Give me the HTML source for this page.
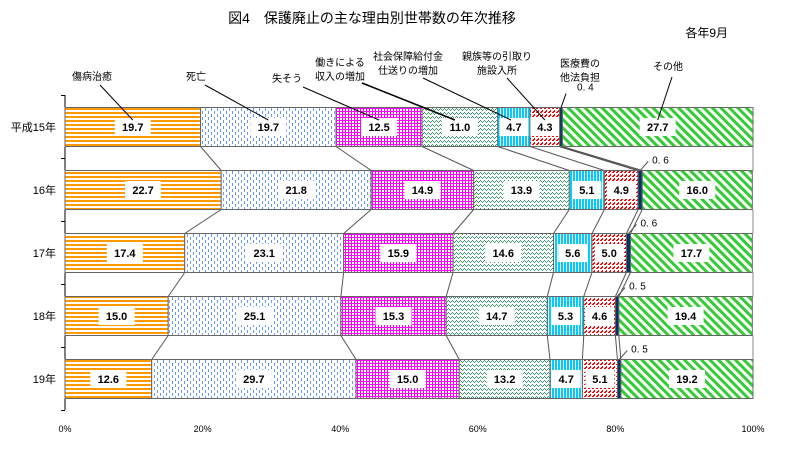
<!DOCTYPE html>
<html><head><meta charset="utf-8"><style>
body{margin:0;background:#fff;}
svg{display:block;font-family:"Liberation Sans","Noto Sans CJK JP",sans-serif;}
</style></head><body>
<svg id="chart" width="800" height="455" viewBox="0 0 800 455" xmlns="http://www.w3.org/2000/svg">
<defs>
<pattern id="p0" width="4" height="4" patternUnits="userSpaceOnUse"><rect width="4" height="4" fill="#fff"/><rect width="4" height="2" fill="#f90"/></pattern>
<pattern id="p1" width="6" height="6" patternUnits="userSpaceOnUse"><rect width="6" height="6" fill="#fff"/><rect x="1" y="0" width="1" height="3" fill="#69f"/><rect x="4" y="3" width="1" height="3" fill="#69f"/></pattern>
<pattern id="p2" width="3" height="3" patternUnits="userSpaceOnUse"><rect width="3" height="3" fill="#fff"/><rect width="3" height="1" fill="#f0f"/><rect width="1" height="3" fill="#f0f"/></pattern>
<pattern id="p3" width="4" height="4" patternUnits="userSpaceOnUse"><rect width="4" height="4" fill="#fff"/><rect x="0" y="0" width="1" height="1" fill="#396"/><rect x="1" y="1" width="1" height="1" fill="#396"/><rect x="2" y="2" width="1" height="1" fill="#396"/><rect x="3" y="1" width="1" height="1" fill="#396"/></pattern>
<pattern id="p4" width="3" height="3" patternUnits="userSpaceOnUse"><rect width="3" height="3" fill="#fff"/><rect width="2" height="3" fill="#0cf"/></pattern>
<pattern id="p5" width="4" height="4" patternUnits="userSpaceOnUse"><rect width="4" height="4" fill="#fff"/><rect x="0" y="0" width="2" height="1" fill="#f00"/><rect x="2" y="2" width="1" height="2" fill="#f00"/><rect x="1" y="3" width="1" height="1" fill="#f00"/></pattern>
<pattern id="p6" width="4" height="4" patternUnits="userSpaceOnUse"><rect width="4" height="4" fill="#036"/></pattern>
<pattern id="p7" width="6" height="6" patternUnits="userSpaceOnUse" patternTransform="rotate(-45)"><rect width="6" height="6" fill="#fff"/><rect width="3" height="6" fill="#3c3"/></pattern>
</defs>
<text x="372" y="23" font-size="14" text-anchor="middle">図4　保護廃止の主な理由別世帯数の年次推移</text>
<text x="728" y="37" font-size="12" text-anchor="end">各年9月</text>
<g id="plot"></g>
</svg>
<script>
const categories = ["平成15年","16年","17年","18年","19年"];
const seriesNames = ["傷病治癒","死亡","失そう","働きによる収入の増加","社会保障給付金仕送りの増加","親族等の引取り施設入所","医療費の他法負担","その他"];
const s0 = [19.7,22.7,17.4,15.0,12.6];
const s1 = [19.7,21.8,23.1,25.1,29.7];
const s2 = [12.5,14.9,15.9,15.3,15.0];
const s3 = [11.0,13.9,14.6,14.7,13.2];
const s4 = [4.7,5.1,5.6,5.3,4.7];
const s5 = [4.3,4.9,5.0,4.6,5.1];
const s6 = [0.4,0.6,0.6,0.5,0.5];
const s7 = [27.7,16.0,17.7,19.4,19.2];
const xTicks = [0,20,40,60,80,100];
const series = [s0,s1,s2,s3,s4,s5,s6,s7];

const X0=65, X1=753, BH=39;
const x = v => X0 + v/100*(X1-X0);
const yc = i => 127 + i*63;
const NS="http://www.w3.org/2000/svg";
const g=document.getElementById('plot');
function mk(t,a,p){const e=document.createElementNS(NS,t);for(const k in a)e.setAttribute(k,a[k]);(p||g).appendChild(e);return e;}

const ax=mk('line',{x1:X0,y1:95,x2:X0,y2:410,stroke:'#000','stroke-width':1});


for(let i=0;i<=categories.length;i++){
  const ty=yc(i)-31.5;
  mk('line',{x1:X0-4,y1:ty,x2:X0,y2:ty,stroke:'#000'});
}
for(let i=0;i<categories.length-1;i++){
  mk('line',{x1:X1,y1:yc(i)+BH/2,x2:X1,y2:yc(i+1)-BH/2,stroke:'#888'});
}
xTicks.forEach(t=>{
  const e=mk('text',{x:x(t),y:432,'font-size':9,'text-anchor':'middle'});
  e.textContent=t+'%';
  
  
});
for(let i=0;i<categories.length-1;i++){
  let c1=0,c2=0;
  for(let s=0;s<series.length-1;s++){
    c1+=series[s][i];c2+=series[s][i+1];
    const l=mk('line',{x1:x(c1),y1:yc(i)+BH/2,x2:x(c2),y2:yc(i+1)-BH/2,stroke:'#555','stroke-width':(s===5&&i===0)?1.5:1});
    
    
  }
}
categories.forEach((c,i)=>{
  const lb=mk('text',{x:56,y:yc(i)+4,'font-size':11,'text-anchor':'end'});
  lb.textContent=c;
  
  
  let cum=0;
  series.forEach((s,k)=>{
    const v=s[i];
    const r=mk('rect',{x:x(cum),y:yc(i)-BH/2,width:x(cum+v)-x(cum),height:BH,fill:'url(#p'+k+')',stroke:'#666','stroke-width':1});
    
    
    const mid=(x(cum)+x(cum+v))/2;
    if(v>=1){
      const txt=v.toFixed(1);
      const w=txt.length*7+8;
      mk('rect',{x:mid-w/2,y:yc(i)-9,width:w,height:18,fill:'#fff'});
      const t=mk('text',{x:mid,y:yc(i)+4,'font-size':11,'font-weight':'bold','text-anchor':'middle'});
      t.textContent=txt;
      
      
    } else {
      const lx=x(cum+v/2);
      const top=yc(i)-BH/2;
      const label='0. '+v.toFixed(1).slice(2);
      if(i===0){
        mk('line',{x1:lx,y1:top,x2:lx+5,y2:top-14,stroke:'#000'});
        const t=mk('text',{x:lx+16,y:top-17,'font-size':10});
        t.textContent=label;
        
        
      } else {
        mk('line',{x1:lx,y1:top,x2:lx+8,y2:top-9,stroke:'#555'});
        const t=mk('text',{x:lx+12,y:top-7,'font-size':10});
        t.textContent=label;
        
        
      }
    }
    cum+=v;
  });
});
const callouts=[
 {lines:["傷病治癒"],tx:92,ty:80,ax:100,ay:85,k:0},
 {lines:["死亡"],tx:196,ty:80,ax:205,ay:85,k:1},
 {lines:["失そう"],tx:287,ty:82,ax:303,ay:87,k:2},
 {lines:["働きによる","収入の増加"],tx:340,ty:66,ax:362,ay:83,k:3},
 {lines:["社会保障給付金","仕送りの増加"],tx:408,ty:60,ax:423,ay:78,k:4},
 {lines:["親族等の引取り","施設入所"],tx:497,ty:60,ax:507,ay:78,k:5},
 {lines:["医療費の","他法負担"],tx:580,ty:67,ax:567,ay:96,k:6},
 {lines:["その他"],tx:668,ty:70,ax:672,ay:77,k:7}
];
callouts.forEach(c=>{
  c.lines.forEach((ln,j)=>{
    const t=mk('text',{x:c.tx,y:c.ty+j*14,'font-size':10,'text-anchor':'middle'});
    t.textContent=ln;
    
    
  });
  if(c.k===6) return;
  let cum=0;for(let s=0;s<c.k;s++)cum+=series[s][0];
  const tx=x(cum+series[c.k][0]/2)+(c.k===3?-5:(c.k===4?-3:0));
  mk('line',{x1:c.ax,y1:c.ay,x2:tx,y2:120,stroke:'#000','stroke-width':c.k===3?1.5:1});
});
</script>
</body></html>
